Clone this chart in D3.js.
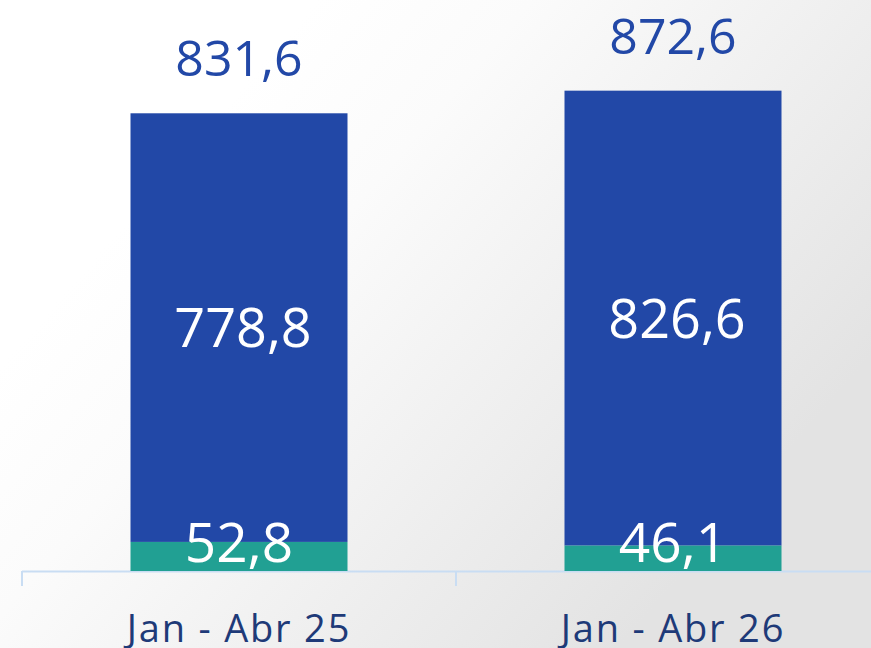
<!DOCTYPE html>
<html>
<head>
<meta charset="utf-8">
<script src="https://cdn.jsdelivr.net/npm/d3@7"></script>
<style>
  html, body { margin: 0; padding: 0; background: #fff; }
  svg { display: block; font-family: "Open Sans", sans-serif; }
</style>
</head>
<body>
<svg id="chart"></svg>
<script>
// data
const categories = ["Jan - Abr 25", "Jan - Abr 26"];
const baseValues = [52.8, 46.1];     // teal segment
const mainValues = [778.8, 826.6];   // blue segment
const totals = [831.6, 872.6];

const width = 871;
const height = 648;

const blue = "#2248A7";
const teal = "#21A093";
const navy = "#1E3A78";

const fmt = d3.formatLocale({ decimal: ",", thousands: ".", grouping: [3], currency: ["", ""] }).format(".1f");

const svg = d3.select("#chart")
  .attr("width", width)
  .attr("height", height);

// background gradient
const grad = svg.append("defs").append("linearGradient")
  .attr("id", "bg")
  .attr("x1", "0.3").attr("y1", "0.1")
  .attr("x2", "1").attr("y2", "0.55");
grad.append("stop").attr("offset", "0").attr("stop-color", "#ffffff");
grad.append("stop").attr("offset", "0.25").attr("stop-color", "#fbfbfb");
grad.append("stop").attr("offset", "1").attr("stop-color", "#e3e3e3");

svg.append("rect")
  .attr("width", width)
  .attr("height", height)
  .attr("fill", "url(#bg)");

// scales
const x = d3.scaleBand()
  .domain(categories)
  .range([22, 890])
  .paddingInner(0.5)
  .paddingOuter(0.25);

const y = d3.scaleLinear()
  .domain([0, 1000])
  .range([571, 20.6]);

const rows = categories.map((c, i) => ({
  cat: c, base: baseValues[i], main: mainValues[i], total: totals[i]
}));

// axis line with ticks on band boundaries
const axisG = svg.append("g");
axisG.append("line")
  .attr("x1", 22).attr("x2", width)
  .attr("y1", y(0) + 0.5).attr("y2", y(0) + 0.5)
  .attr("stroke", "#C9DDF3").attr("stroke-width", 2);
d3.range(categories.length + 1).forEach(i => {
  const tx = x.range()[0] + i * x.step();
  axisG.append("line")
    .attr("x1", tx).attr("x2", tx)
    .attr("y1", y(0)).attr("y2", y(0) + 15)
    .attr("stroke", "#C9DDF3").attr("stroke-width", 2);
});

// bars
const bars = svg.append("g").selectAll("g").data(rows).join("g");

bars.append("rect")
  .attr("x", d => x(d.cat))
  .attr("width", x.bandwidth())
  .attr("y", d => y(d.base + d.main))
  .attr("height", d => y(d.base) - y(d.base + d.main))
  .attr("fill", blue);

bars.append("rect")
  .attr("x", d => x(d.cat))
  .attr("width", x.bandwidth())
  .attr("y", d => y(d.base))
  .attr("height", d => y(0) - y(d.base))
  .attr("fill", teal);

// labels
bars.append("text")
  .attr("x", d => x(d.cat) + x.bandwidth() / 2)
  .attr("y", d => y(d.base + d.main) - 37)
  .attr("text-anchor", "middle")
  .attr("font-size", 50)
  .attr("fill", blue)
  .text(d => fmt(d.total));

bars.append("text")
  .attr("x", d => x(d.cat) + x.bandwidth() / 2 + 4)
  .attr("y", d => (y(d.base) + y(d.base + d.main)) / 2)
  .attr("dy", "0.36em")
  .attr("text-anchor", "middle")
  .attr("font-size", 54)
  .attr("fill", "#fff")
  .text(d => fmt(d.main));

bars.append("text")
  .attr("x", d => x(d.cat) + x.bandwidth() / 2)
  .attr("y", y(0) - 9)
  .attr("text-anchor", "middle")
  .attr("font-size", 55)
  .attr("fill", "#fff")
  .text(d => fmt(d.base));

bars.append("text")
  .attr("x", d => x(d.cat) + x.bandwidth() / 2)
  .attr("y", 642)
  .attr("text-anchor", "middle")
  .attr("font-size", 38)
  .attr("letter-spacing", 1.8)
  .attr("fill", navy)
  .text(d => d.cat);
</script>
</body>
</html>
